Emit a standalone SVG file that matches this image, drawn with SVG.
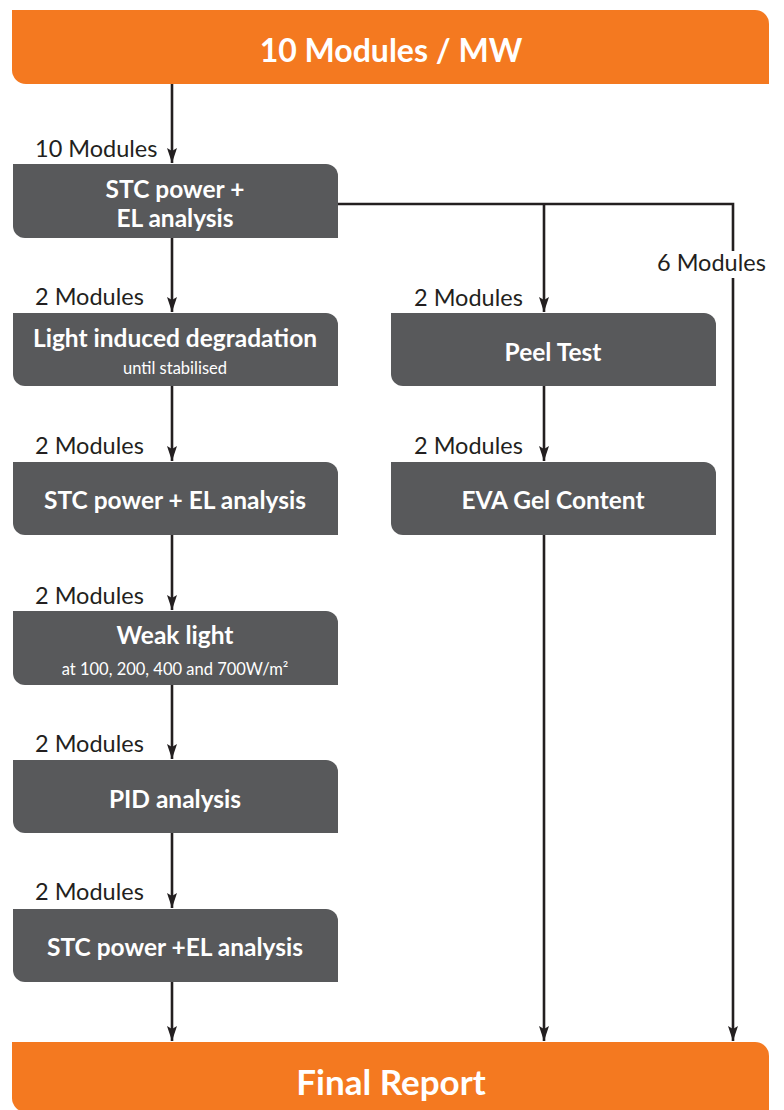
<svg xmlns="http://www.w3.org/2000/svg" width="784" height="1110" viewBox="0 0 784 1110">
<defs>
<marker id="ah" markerUnits="userSpaceOnUse" markerWidth="16" markerHeight="12" refX="15" refY="5" orient="auto">
<path d="M0,0 L15,5 L0,10 L3,5 Z" fill="#231F20"/>
</marker>
</defs>
<style>
.or{fill:#F47920}
.bx{fill:#58595B}
.t{font-family:Lato,"Open Sans",sans-serif;fill:#fff;text-anchor:middle}
.big{font-size:32px;font-weight:700}
.fr{font-size:35px;font-weight:700}
.m{font-size:24.5px;font-weight:700}
.s{font-size:16.5px}
.lb{font-family:Lato,"Open Sans",sans-serif;font-size:23.5px;fill:#231F20}
.c{fill:none;stroke:#231F20;stroke-width:2.6}
</style>
<g id="connectors">
<path class="c" d="M172,84 V163" marker-end="url(#ah)"/>
<path class="c" d="M172,238 V312" marker-end="url(#ah)"/>
<path class="c" d="M172,386 V461" marker-end="url(#ah)"/>
<path class="c" d="M172,535 V610" marker-end="url(#ah)"/>
<path class="c" d="M172,685 V759" marker-end="url(#ah)"/>
<path class="c" d="M172,833 V908" marker-end="url(#ah)"/>
<path class="c" d="M172,982 V1041" marker-end="url(#ah)"/>
<path class="c" d="M338,204 H733 V251"/>
<path class="c" d="M733,278 V1041" marker-end="url(#ah)"/>
<path class="c" d="M544,204 V312" marker-end="url(#ah)"/>
<path class="c" d="M544,386 V461" marker-end="url(#ah)"/>
<path class="c" d="M544,535 V1041" marker-end="url(#ah)"/>
<text class="lb" x="35" y="157">10 Modules</text>
<text class="lb" x="35" y="305">2 Modules</text>
<text class="lb" x="414" y="306">2 Modules</text>
<text class="lb" x="657" y="271">6 Modules</text>
<text class="lb" x="35" y="454">2 Modules</text>
<text class="lb" x="414" y="454">2 Modules</text>
<text class="lb" x="35" y="604">2 Modules</text>
<text class="lb" x="35" y="752">2 Modules</text>
<text class="lb" x="35" y="900">2 Modules</text>
</g>
<g id="top">
<path class="or" d="M12,10 H755 A14,14 0 0 1 769,24 V84 H26 A14,14 0 0 1 12,70 Z"/>
<text class="t big" x="391" y="62">10 Modules / MW</text>
</g>
<g id="stc1">
<path class="bx" d="M13,164 H326 A12,12 0 0 1 338,176 V238 H25 A12,12 0 0 1 13,226 Z"/>
<text class="t m" x="175" y="198">STC power +</text>
<text class="t m" x="175" y="227">EL analysis</text>
</g>
<g id="lid">
<path class="bx" d="M13,313 H326 A12,12 0 0 1 338,325 V386 H25 A12,12 0 0 1 13,374 Z"/>
<text class="t m" x="175" y="347">Light induced degradation</text>
<text class="t s" x="175" y="374">until stabilised</text>
</g>
<g id="peel">
<path class="bx" d="M391,313 H704 A12,12 0 0 1 716,325 V386 H403 A12,12 0 0 1 391,374 Z"/>
<text class="t m" x="553" y="361">Peel Test</text>
</g>
<g id="stc2">
<path class="bx" d="M13,462 H326 A12,12 0 0 1 338,474 V535 H25 A12,12 0 0 1 13,523 Z"/>
<text class="t m" x="175" y="509">STC power + EL analysis</text>
</g>
<g id="eva">
<path class="bx" d="M391,462 H704 A12,12 0 0 1 716,474 V535 H403 A12,12 0 0 1 391,523 Z"/>
<text class="t m" x="553" y="509">EVA Gel Content</text>
</g>
<g id="weak">
<path class="bx" d="M13,611 H326 A12,12 0 0 1 338,623 V685 H25 A12,12 0 0 1 13,673 Z"/>
<text class="t m" x="175" y="644">Weak light</text>
<text class="t s" x="175" y="675">at 100, 200, 400 and 700W/m²</text>
</g>
<g id="pid">
<path class="bx" d="M13,760 H326 A12,12 0 0 1 338,772 V833 H25 A12,12 0 0 1 13,821 Z"/>
<text class="t m" x="175" y="808">PID analysis</text>
</g>
<g id="stc3">
<path class="bx" d="M13,909 H326 A12,12 0 0 1 338,921 V982 H25 A12,12 0 0 1 13,970 Z"/>
<text class="t m" x="175" y="956">STC power +EL analysis</text>
</g>
<g id="final">
<path class="or" d="M12,1042 H755 A14,14 0 0 1 769,1056 V1112 H26 A14,14 0 0 1 12,1098 Z"/>
<text class="t fr" x="391" y="1095">Final Report</text>
</g>
</svg>
